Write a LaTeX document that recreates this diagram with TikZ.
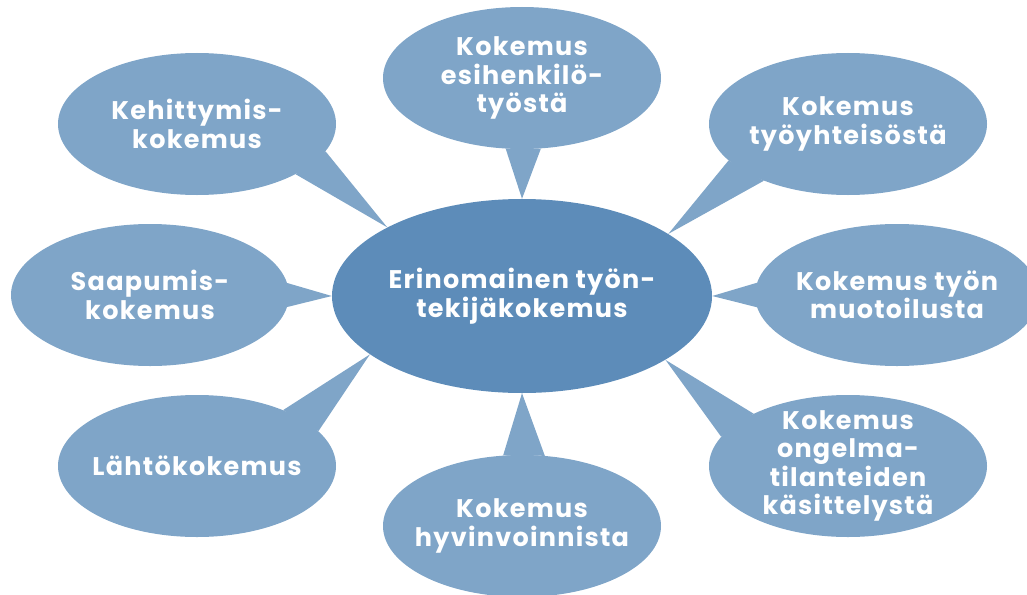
\documentclass[tikz,border=0pt]{standalone}
\usepackage{fontspec}
\setmainfont{Poppins}[LetterSpace=5]
\usetikzlibrary{shapes.geometric,backgrounds}
\definecolor{outerblue}{HTML}{7FA5C8}
\definecolor{hubblue}{HTML}{5D8CB9}
\begin{document}
\begin{tikzpicture}[x=1pt,y=-1pt,
  bubble/.style={ellipse, fill=outerblue, inner sep=0pt, minimum width=278pt, minimum height=142pt},
  hub/.style={ellipse, fill=hubblue, inner sep=0pt, minimum width=380pt, minimum height=194pt},
  txt/.style={text=white, font=\fontsize{25.5}{28.5}\selectfont\bfseries, align=center, inner sep=0pt},
  tail/.style={fill=outerblue}]
\useasboundingbox (0,0) rectangle (1027,594);
% outer bubbles
\node[bubble] (k1) at (197,124) {};
\node[bubble] (k2) at (522,78) {};
\node[bubble] (k3) at (848,124) {};
\node[bubble] (k4) at (150,295) {};
\node[bubble] (k5) at (197,466) {};
\node[bubble] (k6) at (522,526) {};
\node[bubble, minimum width=284pt] (k7) at (897,295) {};
\node[bubble] (k8) at (848,466) {};
% hub
\node[hub] (c) at (522,296) {};
% tails
\begin{pgfonlayer}{background}
\fill[tail] (k1.-12.7) -- (c.153.6) -- (k1.-27.5) -- cycle;
\fill[tail] (k2.-103.5) -- (c.90.5) -- (k2.-75.6) -- cycle;
\fill[tail] (k3.-163.2) -- (c.23.1) -- (k3.-146.5) -- cycle;
\fill[tail] (k4.5.5) -- (c.180) -- (k4.-5.8) -- cycle;
\fill[tail] (k5.33.4) -- (c.201.9) -- (k5.16.7) -- cycle;
\fill[tail] (k6.105.7) -- (c.-90) -- (k6.72.8) -- cycle;
\fill[tail] (k7.175) -- (c.0) -- (k7.185) -- cycle;
\fill[tail] (k8.151) -- (c.-24.6) -- (k8.167) -- cycle;
\end{pgfonlayer}
% texts
\node[txt] (t1) at (k1) {Kehittymis-\\kokemus};
\node[txt] (t2) at (k2) {Kokemus\\esihenkilö-\\työstä};
\node[txt] (t3) at (k3) {Kokemus\\työyhteisöstä};
\node[txt] (t4) at (k4) {Saapumis-\\kokemus};
\node[txt] (t5) at (k5) {Lähtökokemus};
\node[txt] (t6) at (k6) {Kokemus\\hyvinvoinnista};
\node[txt] (t7) at (k7) {Kokemus työn\\muotoilusta};
\node[txt] (t8) at (k8) {Kokemus\\ongelma-\\tilanteiden\\käsittelystä};
\node[txt] (tc) at (c) {Erinomainen työn-\\tekijäkokemus};
\end{tikzpicture}
\end{document}
